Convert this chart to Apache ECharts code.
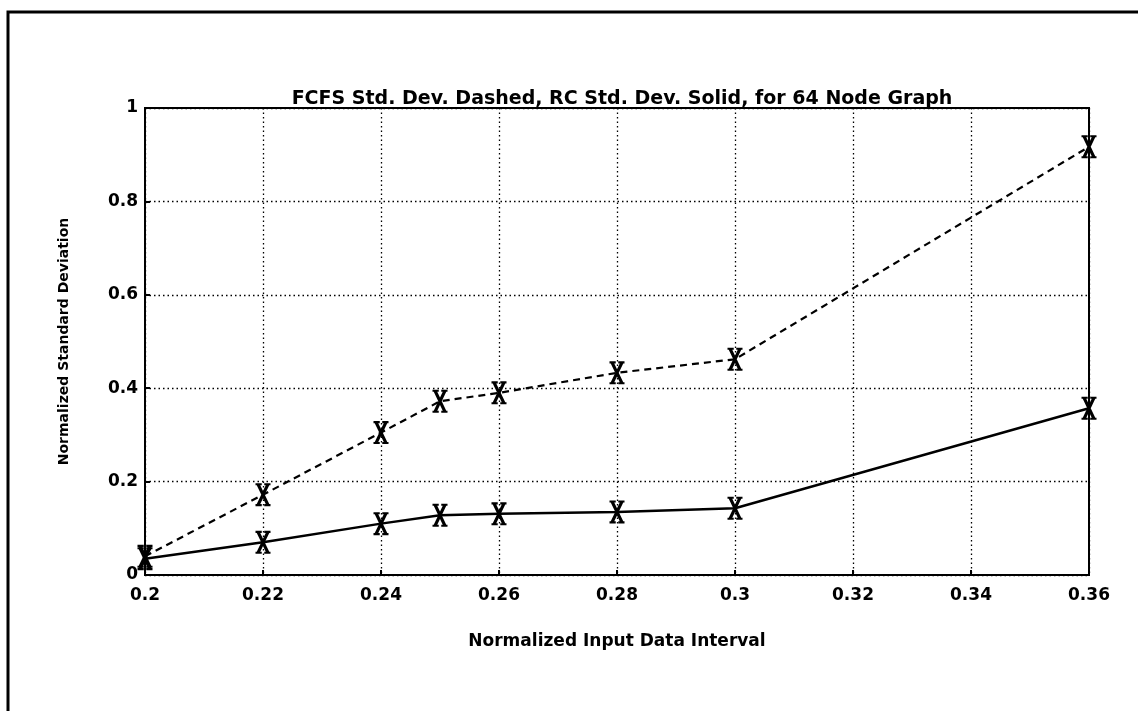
<!DOCTYPE html>
<html>
<head>
<meta charset="utf-8">
<script src="https://cdn.jsdelivr.net/npm/echarts@6/dist/echarts.min.js"></script>
<style>
  html, body { margin: 0; padding: 0; background: #fff; }
  #main { width: 1138px; height: 711px; }
</style>
</head>
<body>
<div id="main"></div>
<script>
  // data
  var intervals = [0.2, 0.22, 0.24, 0.25, 0.26, 0.28, 0.3, 0.36];
  var fcfsDev = [0.04, 0.172, 0.305, 0.372, 0.39, 0.433, 0.462, 0.917];   // dashed
  var rcDev = [0.035, 0.07, 0.11, 0.128, 0.131, 0.135, 0.143, 0.357];     // solid

  function pairs(xs, ys) {
    var out = [];
    for (var i = 0; i < xs.length; i++) out.push([xs[i], ys[i]]);
    return out;
  }

  // bold X with short feet at the four ends, like the plotter glyph
  var xMark = 'path://M0,0H5V2H0Z M7,0H12V2H7Z M0,20H5V22H0Z M7,20H12V22H7Z ' +
    'M1,2L3.8,2L11,20L8.2,20Z M8.2,2L11,2L3.8,20L1,20Z';

  var font = '"DejaVu Sans", sans-serif';

  var myChart = echarts.init(document.getElementById('main'));
  myChart.setOption({
    animation: false,
    backgroundColor: '#fff',
    title: {
      text: 'FCFS Std. Dev. Dashed, RC Std. Dev. Solid, for 64 Node Graph',
      left: 617,
      textAlign: 'center',
      top: 85,
      textStyle: { fontFamily: font, fontSize: 19, fontWeight: 'bold', color: '#000' }
    },
    graphic: [{
      type: 'rect',
      shape: { x: 8, y: 12, width: 1300, height: 900 },
      style: { fill: null, stroke: '#000', lineWidth: 3 },
      silent: true
    }],
    grid: {
      left: 145, right: 49, top: 108, bottom: 136,
      show: true, borderColor: '#000', borderWidth: 2, backgroundColor: 'transparent'
    },
    xAxis: {
      type: 'value',
      min: 0.2, max: 0.36, interval: 0.02,
      name: 'Normalized Input Data Interval',
      nameLocation: 'middle',
      nameGap: 58,
      nameTextStyle: { fontFamily: font, fontSize: 17, fontWeight: 'bold', color: '#000' },
      axisLine: { lineStyle: { color: '#000', width: 2 } },
      axisTick: { inside: true, length: 5, lineStyle: { color: '#000', width: 2 } },
      axisLabel: { fontFamily: font, fontSize: 17, fontWeight: 'bold', color: '#000', margin: 12 },
      splitLine: { show: true, lineStyle: { color: '#000', width: 1.3, type: [1.5, 3] } }
    },
    yAxis: {
      type: 'value',
      min: 0, max: 1, interval: 0.2,
      name: 'Normalized Standard Deviation',
      nameLocation: 'middle',
      nameGap: 74,
      nameTextStyle: { fontFamily: font, fontSize: 14, fontWeight: 'bold', color: '#000' },
      axisLine: { lineStyle: { color: '#000', width: 2 } },
      axisTick: { inside: true, length: 5, lineStyle: { color: '#000', width: 2 } },
      axisLabel: { fontFamily: font, fontSize: 17, fontWeight: 'bold', color: '#000', margin: 7 },
      splitLine: { show: true, lineStyle: { color: '#000', width: 1.3, type: [1.5, 3] } }
    },
    series: [{
      name: 'FCFS',
      type: 'line',
      data: pairs(intervals, fcfsDev),
      symbol: xMark,
      symbolSize: [15, 23],
      showAllSymbol: true,
      lineStyle: { color: '#000', width: 2.2, type: [7, 5] },
      itemStyle: { color: '#000', borderWidth: 0 }
    }, {
      name: 'RC',
      type: 'line',
      data: pairs(intervals, rcDev),
      symbol: xMark,
      symbolSize: [15, 23],
      showAllSymbol: true,
      lineStyle: { color: '#000', width: 2.5, type: 'solid' },
      itemStyle: { color: '#000', borderWidth: 0 }
    }]
  });
</script>
</body>
</html>
